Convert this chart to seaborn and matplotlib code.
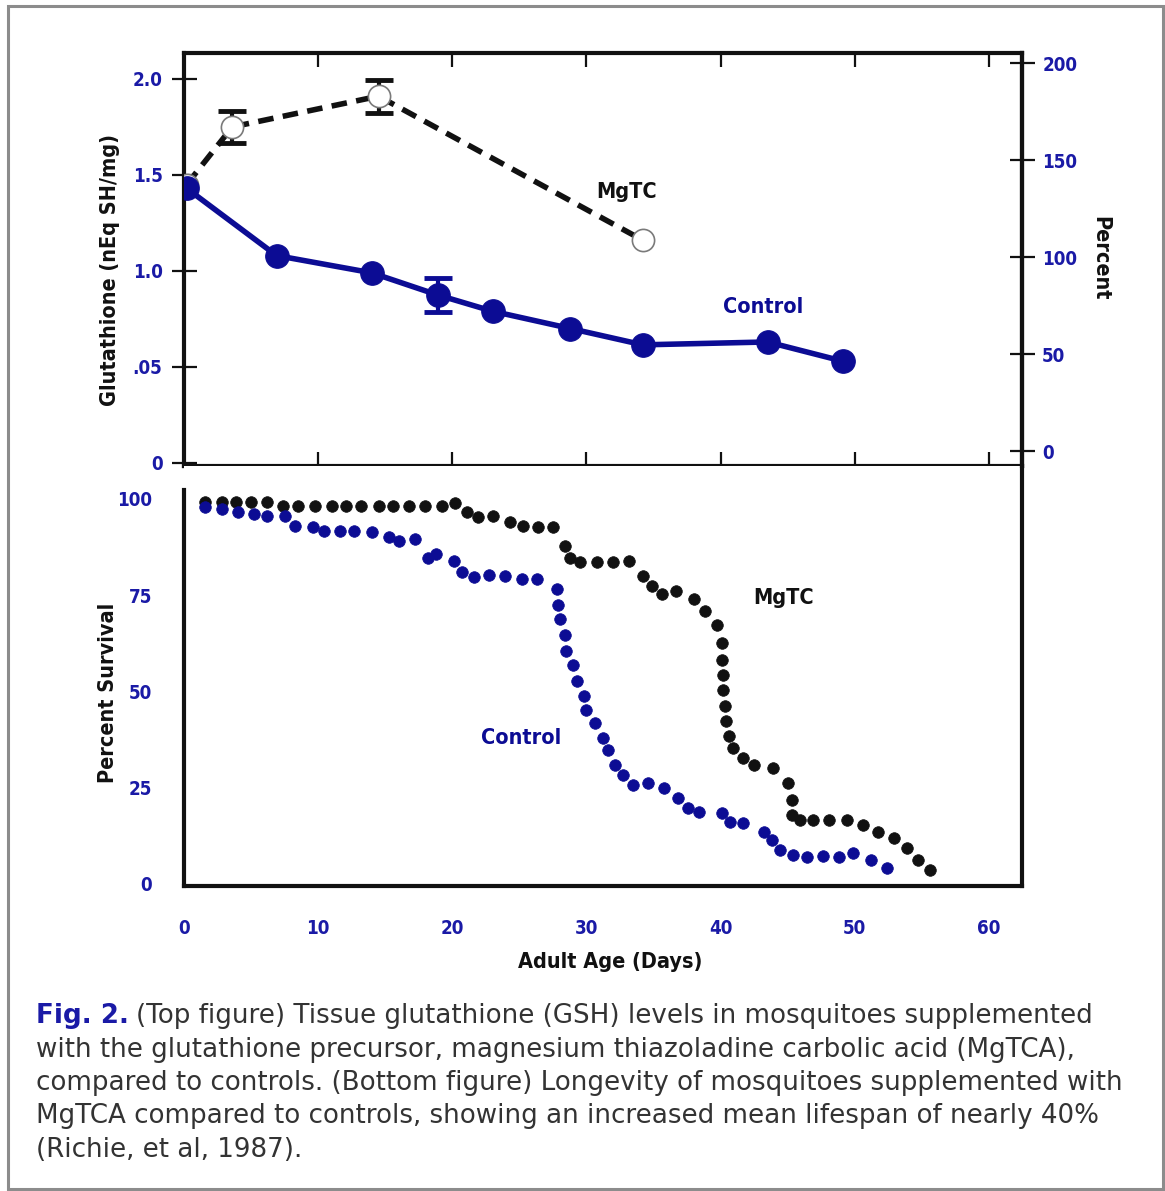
import matplotlib
matplotlib.use("Agg")
import matplotlib.pyplot as plt
from matplotlib.patches import Rectangle
import numpy as np
import pandas as pd
import seaborn as sns

# ---------------- data ----------------
# Top panel: tissue glutathione (nEq SH/mg)
gsh_control_days = [0.2, 6.9, 14.0, 18.9, 23.0, 28.8, 34.2, 43.5, 49.1]
gsh_control_vals = [1.43, 1.08, 0.99, 0.875, 0.79, 0.70, 0.615, 0.63, 0.53]
gsh_control_err_day = [18.9]
gsh_control_err_val = [0.875]
gsh_control_err = [0.09]

gsh_mgtc_days = [0.2, 3.6, 14.5, 34.2]
gsh_mgtc_vals = [1.45, 1.75, 1.91, 1.16]
gsh_mgtc_err_day = [3.6, 14.5]
gsh_mgtc_err_val = [1.75, 1.91]
gsh_mgtc_err = [0.085, 0.085]

# Bottom panel: percent survival
surv_mgtc_days = [1.6, 2.8, 3.9, 5.0, 6.2, 7.4, 8.5, 9.8, 11.0, 12.1, 13.2, 14.5, 15.6, 16.8,
                  18.0, 19.2, 20.2, 21.1, 21.9, 23.0, 24.3, 25.3, 26.4, 27.5, 28.4, 28.8,
                  29.5, 30.8, 32.0, 33.2, 34.2, 34.9, 35.6, 36.7, 38.0, 38.8, 39.7, 40.1,
                  40.1, 40.2, 40.2, 40.3, 40.4, 40.6, 40.9, 41.7, 42.5, 43.9, 45.0, 45.3,
                  45.3, 45.9, 46.9, 48.1, 49.4, 50.6, 51.7, 52.9, 53.9, 54.7, 55.6]
surv_mgtc_vals = [99.3, 99.3, 99.3, 99.3, 99.3, 98.3, 98.3, 98.3, 98.3, 98.3, 98.3, 98.3, 98.3,
                  98.3, 98.3, 98.3, 99.0, 96.5, 95.2, 95.7, 94.1, 93.0, 92.6, 92.6, 87.8, 84.8,
                  83.7, 83.6, 83.6, 83.9, 80.0, 77.4, 75.3, 76.2, 74.0, 70.9, 67.4, 62.7,
                  58.3, 54.4, 50.5, 46.2, 42.3, 38.4, 35.3, 32.7, 31.0, 30.1, 26.2, 21.9,
                  18.0, 16.7, 16.6, 16.7, 16.7, 15.4, 13.6, 11.9, 9.3, 6.2, 3.6]

surv_control_days = [1.6, 2.8, 4.0, 5.2, 6.2, 7.5, 8.3, 9.6, 10.4, 11.6, 12.7, 14.0, 15.3, 16.0,
                     17.2, 18.2, 18.8, 20.1, 20.7, 21.6, 22.7, 23.9, 25.2, 26.3, 27.8, 27.9,
                     28.0, 28.4, 28.5, 29.0, 29.3, 29.8, 30.0, 30.6, 31.2, 31.6, 32.1, 32.7,
                     33.5, 34.6, 35.8, 36.8, 37.6, 38.4, 40.1, 40.7, 41.7, 43.2, 43.8, 44.4,
                     45.4, 46.4, 47.6, 48.8, 49.9, 51.2, 52.4]
surv_control_vals = [97.8, 97.4, 96.7, 96.1, 95.7, 95.7, 93.0, 92.6, 91.7, 91.7, 91.7, 91.3,
                     90.0, 89.1, 89.6, 84.8, 85.7, 83.9, 81.1, 79.8, 80.2, 80.0, 79.2, 79.2,
                     76.7, 72.4, 68.8, 64.8, 60.5, 57.0, 52.7, 48.8, 45.3, 41.8, 37.9, 34.9,
                     31.0, 28.4, 25.8, 26.2, 24.9, 22.3, 19.7, 18.8, 18.4, 16.2, 15.8, 13.6,
                     11.5, 8.9, 7.6, 7.1, 7.2, 7.1, 8.0, 6.2, 4.1]

x_ticks = [0, 10, 20, 30, 40, 50, 60]
x_ticklabels = ["0", "10", "20", "30", "40", "50", "60"]
gsh_ticks = [0, 0.5, 1.0, 1.5, 2.0]
gsh_ticklabels = ["0", ".05", "1.0", "1.5", "2.0"]
pct_ticks = [0, 50, 100, 150, 200]
pct_ticklabels = ["0", "50", "100", "150", "200"]
surv_ticks = [0, 25, 50, 75, 100]
surv_ticklabels = ["0", "25", "50", "75", "100"]

caption_lines = [
    "(Top figure) Tissue glutathione (GSH) levels in mosquitoes supplemented",
    "with the glutathione precursor, magnesium thiazoladine carbolic acid (MgTCA),",
    "compared to controls. (Bottom figure) Longevity of mosquitoes supplemented with",
    "MgTCA compared to controls, showing an increased mean lifespan of nearly 40%",
    "(Richie, et al, 1987).",
]

# ---------------- style ----------------
sns.set_style("white")
NARROW = ["DejaVu Sans"]
STRETCH = "condensed"
plt.rcParams["font.family"] = ["DejaVu Sans"]

BLUE = "#0c0c94"
TICKBLUE = "#1a1aa6"
BLACK = "#111111"
TICK_FS = 13.5
LAB_FS = 15.5

W, H = 1165, 1191
fig = plt.figure(figsize=(W / 100, H / 100), dpi=100)
fig.patch.set_facecolor("white")


def fx(px):
    return px / W


def fy(py):
    return 1 - py / H


def style_labels(labels):
    for lab in labels:
        lab.set_fontfamily(NARROW)
        lab.set_fontweight("bold")
        lab.set_fontstretch(STRETCH)
        lab.set_fontsize(TICK_FS)


X0, X1 = 184, 1022
ax_top = fig.add_axes([fx(X0), fy(466), fx(X1) - fx(X0), fy(53) - fy(466)])
ax_bot = fig.add_axes([fx(X0), fy(886), fx(X1) - fx(X0), fy(466) - fy(886)])

xlim = (0, 62.46)

# ---------------- top panel ----------------
df_mg = pd.DataFrame({"day": gsh_mgtc_days, "val": gsh_mgtc_vals})
df_ct = pd.DataFrame({"day": gsh_control_days, "val": gsh_control_vals})

sns.lineplot(data=df_mg, x="day", y="val", ax=ax_top, color=BLACK, lw=4.0,
             linestyle=(0, (2.8, 1.7)), marker="o", markersize=16,
             markerfacecolor="white", markeredgecolor="#7a7a7a", markeredgewidth=1.2,
             zorder=3)
ax_top.errorbar(gsh_mgtc_err_day, gsh_mgtc_err_val, yerr=gsh_mgtc_err, fmt="none",
                ecolor=BLACK, elinewidth=3, capsize=10, capthick=3.5, zorder=2)
sns.lineplot(data=df_ct, x="day", y="val", ax=ax_top, color=BLUE, lw=4.0,
             marker="o", markersize=17, markeredgecolor=BLUE, zorder=5)
ax_top.errorbar(gsh_control_err_day, gsh_control_err_val, yerr=gsh_control_err, fmt="none",
                ecolor=BLUE, elinewidth=3, capsize=10, capthick=3.5, zorder=4)

ax_top.set_xlim(*xlim)
ax_top.set_ylim(-0.016, 2.135)
ax_top.set_xticks(x_ticks[1:])
ax_top.set_xticklabels([])
ax_top.set_xlabel("")
ax_top.set_ylabel("")
ax_top.set_yticks(gsh_ticks)
ax_top.set_yticklabels(gsh_ticklabels)
ax_top.tick_params(axis="x", which="both", direction="in", length=10, width=1.6,
                   top=True, bottom=True, colors=BLACK)
ax_top.tick_params(axis="y", direction="inout", length=18, width=1.6, color=BLACK,
                   labelcolor=TICKBLUE, pad=6.5)
style_labels(ax_top.get_yticklabels())
for side in ["left", "right", "top", "bottom"]:
    ax_top.spines[side].set_visible(True)
    ax_top.spines[side].set_color(BLACK)
    ax_top.spines[side].set_linewidth(3)

ax_top.text(33.0, 1.41, "MgTC", ha="center", va="center", fontsize=LAB_FS,
            fontweight="bold", family=NARROW, stretch=STRETCH, color=BLACK)
ax_top.text(43.2, 0.81, "Control", ha="center", va="center", fontsize=LAB_FS,
            fontweight="bold", family=NARROW, stretch=STRETCH, color=BLUE)

ax_r = ax_top.twinx()
ax_r.set_ylim(-7.7, 205.2)
ax_r.set_yticks(pct_ticks)
ax_r.set_yticklabels(pct_ticklabels)
ax_r.tick_params(axis="y", direction="inout", length=18, width=1.6, color=BLACK,
                 labelcolor=TICKBLUE, pad=5.5)
style_labels(ax_r.get_yticklabels())
for side in ["left", "right", "top", "bottom"]:
    ax_r.spines[side].set_visible(False)
ax_r.spines["right"].set_visible(True)
ax_r.spines["right"].set_color(BLACK)
ax_r.spines["right"].set_linewidth(3)

# ---------------- bottom panel ----------------
df_sm = pd.DataFrame({"day": surv_mgtc_days, "val": surv_mgtc_vals})
df_sc = pd.DataFrame({"day": surv_control_days, "val": surv_control_vals})
sns.scatterplot(data=df_sm, x="day", y="val", ax=ax_bot, color=BLACK, s=70,
                edgecolor=BLACK, linewidth=0.5, zorder=3)
sns.scatterplot(data=df_sc, x="day", y="val", ax=ax_bot, color=BLUE, s=70,
                edgecolor=BLUE, linewidth=0.5, zorder=4)

ax_bot.set_xlim(*xlim)
ax_bot.set_ylim(-0.52, 108.57)
ax_bot.set_xticks(x_ticks)
ax_bot.set_xticklabels(x_ticklabels)
ax_bot.set_yticks(surv_ticks)
ax_bot.set_yticklabels(surv_ticklabels)
ax_bot.set_xlabel("")
ax_bot.set_ylabel("")
ax_bot.tick_params(axis="x", direction="in", length=11, width=1.6, color=BLACK,
                   labelcolor=TICKBLUE, pad=24)
ax_bot.tick_params(axis="y", direction="inout", length=18, width=1.6, color=BLACK,
                   labelcolor=TICKBLUE, pad=14)
style_labels(ax_bot.get_xticklabels() + ax_bot.get_yticklabels())
for side in ["left", "right", "bottom"]:
    ax_bot.spines[side].set_visible(True)
    ax_bot.spines[side].set_color(BLACK)
    ax_bot.spines[side].set_linewidth(3)
ax_bot.spines["top"].set_visible(False)
ax_bot.spines["left"].set_bounds(-0.52, 102.3)

ax_bot.text(44.7, 74.3, "MgTC", ha="center", va="center", fontsize=LAB_FS,
            fontweight="bold", family=NARROW, stretch=STRETCH, color=BLACK)
ax_bot.text(25.1, 37.9, "Control", ha="center", va="center", fontsize=LAB_FS,
            fontweight="bold", family=NARROW, stretch=STRETCH, color=BLUE)

# ---------------- axis titles ----------------
title_kw = dict(ha="center", va="center", fontsize=LAB_FS, fontweight="bold",
                family=NARROW, stretch=STRETCH, color=BLACK)
fig.text(fx(110), fy(270), "Glutathione (nEq SH/mg)", rotation=90, **title_kw)
fig.text(fx(1100), fy(258), "Percent", rotation=270, **title_kw)
fig.text(fx(108), fy(693), "Percent Survival", rotation=90, **title_kw)
fig.text(fx(610), fy(962), "Adult Age (Days)", **title_kw)

# ---------------- caption ----------------
CAP_FS = 18.8
CAP_FAMILY = ["DejaVu Sans"]
line_y = [1016, 1050, 1083, 1116, 1150]
t_fig = fig.text(fx(36), fy(line_y[0]), "Fig. 2.", ha="left", va="center",
                 fontsize=CAP_FS, fontweight="bold", color="#1a1aa6", family=CAP_FAMILY)
renderer = fig.canvas.get_renderer()
bb = t_fig.get_window_extent(renderer=renderer)
fig.text(bb.x1 / W + fx(7), fy(line_y[0]), caption_lines[0], ha="left", va="center",
         fontsize=CAP_FS, color="#333333", family=CAP_FAMILY)
for yy, line in zip(line_y[1:], caption_lines[1:]):
    fig.text(fx(36), fy(yy), line, ha="left", va="center", fontsize=CAP_FS,
             color="#333333", family=CAP_FAMILY)

# ---------------- outer frame ----------------
fig.patches.append(Rectangle((fx(8), fy(1189)), fx(1163) - fx(8), fy(6) - fy(1189),
                             transform=fig.transFigure, fill=False,
                             edgecolor="#8c8c8c", lw=2.2))

fig.savefig("out.png", dpi=100, facecolor="white")
